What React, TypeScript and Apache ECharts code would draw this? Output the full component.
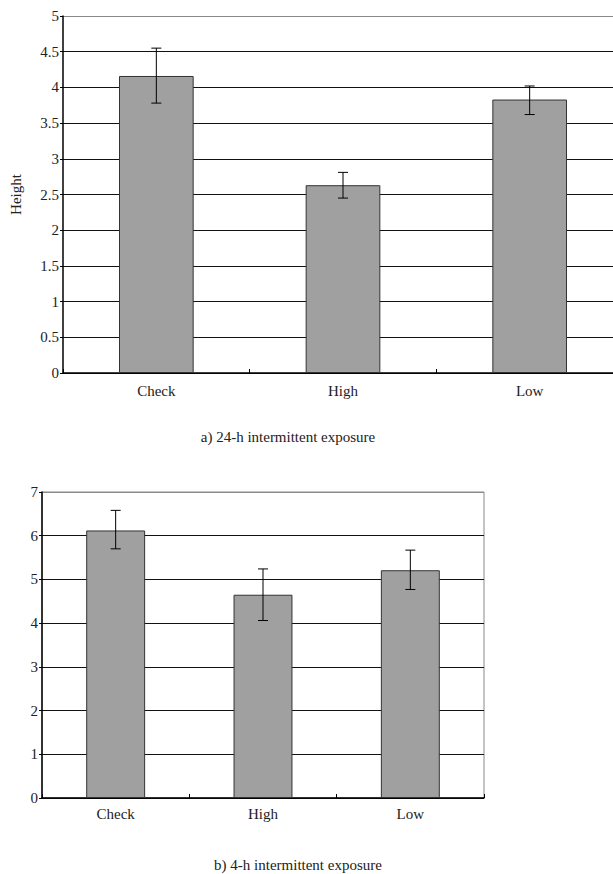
import React, { useEffect, useRef } from "react";
import * as echarts from "echarts";

const categories = ["Check", "High", "Low"];

// a) 24-h intermittent exposure
const meansA = [4.16, 2.63, 3.83];
const upperA = [4.55, 2.81, 4.02];
const lowerA = [3.78, 2.45, 3.62];
const ticksA = { min: 0, max: 5, interval: 0.5 };

// b) 4-h intermittent exposure
const meansB = [6.12, 4.65, 5.21];
const upperB = [6.58, 5.24, 5.67];
const lowerB = [5.7, 4.06, 4.77];
const ticksB = { min: 0, max: 7, interval: 1 };

const captionA = "a) 24-h intermittent exposure";
const captionB = "b) 4-h intermittent exposure";
const yNameA = "Height";

const FONT = "'Liberation Serif', 'Times New Roman', serif";

function errorSeries(xIdx: number, upper: number[], lower: number[]) {
  return {
    type: "custom",
    xAxisIndex: xIdx,
    yAxisIndex: xIdx,
    data: upper.map((u, i) => [i, u, lower[i]]),
    z: 10,
    renderItem: (params: any, api: any) => {
      const i = api.value(0);
      const top = api.coord([i, api.value(1)]);
      const bot = api.coord([i, api.value(2)]);
      const hw = 5;
      const style = { stroke: "#000", lineWidth: 1 };
      return {
        type: "group",
        children: [
          { type: "line", shape: { x1: top[0], y1: top[1], x2: bot[0], y2: bot[1] }, style },
          { type: "line", shape: { x1: top[0] - hw, y1: top[1], x2: top[0] + hw, y2: top[1] }, style },
          { type: "line", shape: { x1: bot[0] - hw, y1: bot[1], x2: bot[0] + hw, y2: bot[1] }, style },
        ],
      };
    },
  };
}

function splitColors(t: { min: number; max: number; interval: number }) {
  const n = Math.round((t.max - t.min) / t.interval) + 1;
  const arr: string[] = [];
  for (let i = 0; i < n; i++) arr.push(i === n - 1 ? "#8a8a8a" : "#111");
  return arr;
}

export default function App() {
  const ref = useRef<HTMLDivElement>(null);
  useEffect(() => {
    document.body.style.margin = "0";
    if (!ref.current) return;
    const chart = echarts.init(ref.current, null, { renderer: "svg" });
    const axisLabel = { color: "#222", fontFamily: FONT, fontSize: 15 };
    const xAxisCommon = {
      type: "category",
      data: categories,
      axisLine: { lineStyle: { color: "#000", width: 1.5 } },
      axisTick: { show: true, inside: true, length: 4, lineStyle: { color: "#000" } },
      splitLine: { show: false },
    };
    const yAxisCommon = {
      type: "value",
      axisLine: { show: true, lineStyle: { color: "#000", width: 1.5 } },
      axisTick: { show: true, length: 3, lineStyle: { color: "#000" } },
      axisLabel: { ...axisLabel, margin: 4 },
    };
    const barStyle = { color: "#a0a0a0", borderColor: "#333", borderWidth: 1 };
    chart.setOption({
      animation: false,
      backgroundColor: "#fff",
      grid: [
        { left: 59, top: 16, width: 564, height: 357, show: false },
        { left: 42, top: 492, width: 442, height: 306, show: true, borderColor: "#8a8a8a", borderWidth: 1 },
      ],
      xAxis: [
        { ...xAxisCommon, gridIndex: 0, axisLabel: { ...axisLabel, margin: 10 } },
        { ...xAxisCommon, gridIndex: 1, axisLabel: { ...axisLabel, margin: 8 } },
      ],
      yAxis: [
        {
          ...yAxisCommon,
          gridIndex: 0,
          ...ticksA,
          name: yNameA,
          nameLocation: "middle",
          nameRotate: 90,
          nameGap: 40,
          nameTextStyle: { color: "#222", fontFamily: FONT, fontSize: 15 },
          splitLine: { show: true, lineStyle: { color: splitColors(ticksA), width: 1 } },
        },
        {
          ...yAxisCommon,
          gridIndex: 1,
          ...ticksB,
          splitLine: { show: true, lineStyle: { color: splitColors(ticksB), width: 1 } },
        },
      ],
      series: [
        { type: "bar", xAxisIndex: 0, yAxisIndex: 0, data: meansA, barWidth: "40%", itemStyle: barStyle },
        errorSeries(0, upperA, lowerA),
        { type: "bar", xAxisIndex: 1, yAxisIndex: 1, data: meansB, barWidth: "40%", itemStyle: barStyle },
        errorSeries(1, upperB, lowerB),
      ],
      graphic: [
        {
          type: "text",
          x: 288,
          y: 437,
          style: { text: captionA, fill: "#222", font: `15px ${FONT}`, textAlign: "center", textVerticalAlign: "middle" },
        },
        {
          type: "text",
          x: 298,
          y: 865,
          style: { text: captionB, fill: "#222", font: `15px ${FONT}`, textAlign: "center", textVerticalAlign: "middle" },
        },
      ],
    });
    return () => chart.dispose();
  }, []);
  return (
    <div style={{ width: 613, height: 874, overflow: "hidden", position: "relative" }}>
      <div ref={ref} style={{ width: 640, height: 874 }} />
    </div>
  );
}
